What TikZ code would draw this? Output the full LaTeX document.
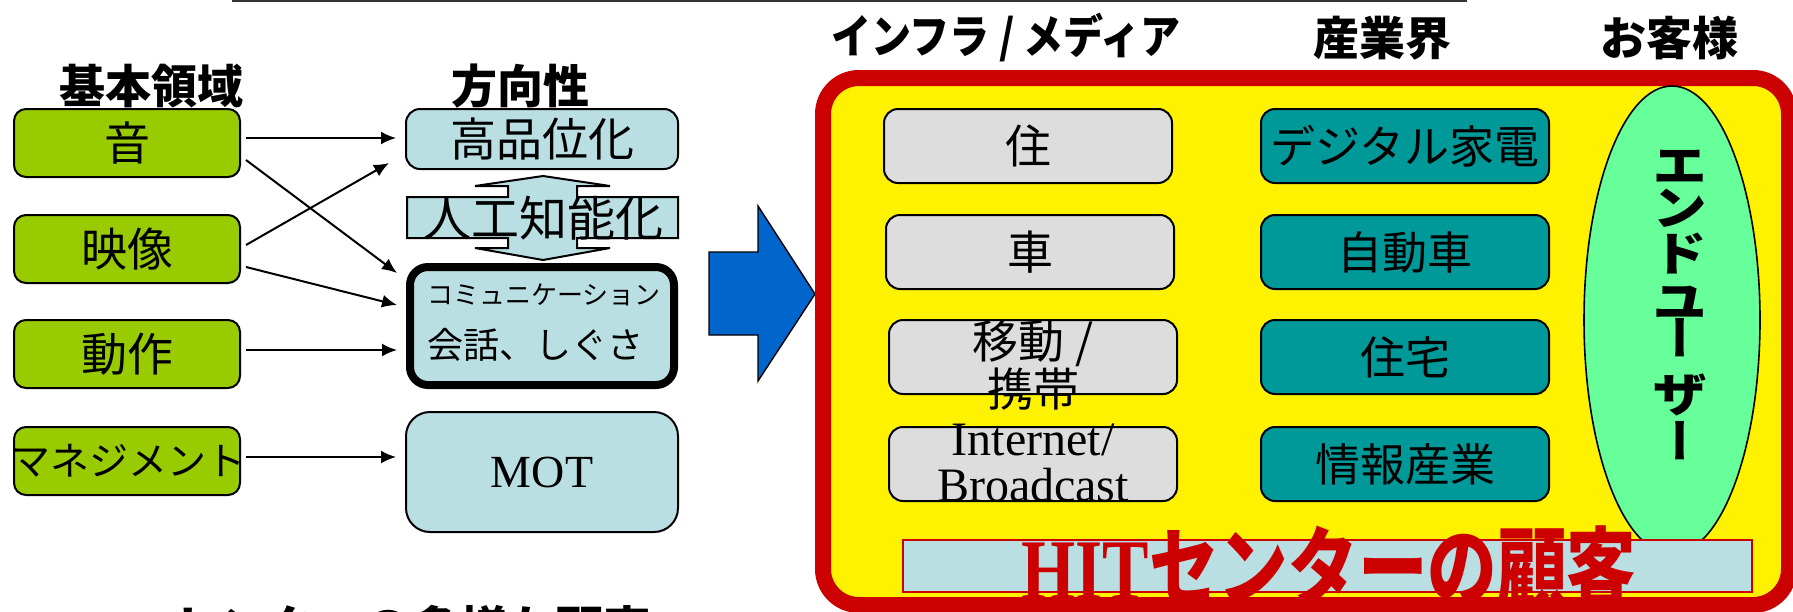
\documentclass[tikz,border=0pt]{standalone}
\usepackage{fontspec}
\setmainfont{Liberation Serif}
\newfontfamily\jp{Noto Sans CJK JP}
\newfontfamily\jpv[RawFeature=+vert]{Noto Sans CJK JP}
\usetikzlibrary{arrows.meta,calc,shapes.geometric}
\definecolor{lgreen}{HTML}{99CC00}
\definecolor{lblue}{HTML}{BADFE3}
\definecolor{lgray}{HTML}{DDDDDD}
\definecolor{tealbox}{HTML}{009999}
\definecolor{mint}{HTML}{66FF99}
\definecolor{hitred}{HTML}{CC0000}
\definecolor{arrowblue}{HTML}{0066CC}
\begin{document}
\begin{tikzpicture}[x=0.5pt,y=-0.5pt,
  hdr/.style={font=\jp\bfseries\fontsize{23}{26}\selectfont, inner sep=0},
  gbox/.style={draw, line width=1pt, fill=lgreen, rounded corners=6pt, minimum width=113pt, minimum height=34pt, inner sep=0, font=\jp\fontsize{23}{25}\selectfont},
  bbox/.style={draw, line width=1pt, fill=lblue, rounded corners=7pt, minimum width=136pt, inner sep=0},
  ibox/.style={draw, line width=1pt, fill=lgray, rounded corners=7pt, minimum width=144pt, minimum height=37pt, inner sep=0},
  tbox/.style={draw, line width=1pt, fill=tealbox, rounded corners=7pt, minimum width=144pt, minimum height=37pt, inner sep=0, font=\jp\fontsize{22.5}{24}\selectfont},
  conn/.style={-{Latex[length=7.5pt,width=6.5pt]}, line width=1pt},
  vch/.style={font=\jpv\bfseries\fontsize{24}{24}\selectfont, inner sep=0},
]
\useasboundingbox (0,0) rectangle (1793,611);

% top rule
\draw[line width=1pt, draw=black!80] (232,1) -- (1467,1);

% headers
\node[hdr] (h1) at (151,86) {基本領域};
\node[hdr] (h2) at (520,86) {方向性};
\node[hdr] (h3) at (1006,38) {\scalebox{0.87}[1]{インフラ / メディア}};
\node[hdr] (h4) at (1382,38) {産業界};
\node[hdr] (h5) at (1669,38) {お客様};

% left column
\node[gbox] (oto) at (127,143) {音};
\node[gbox] (eizo) at (127,249) {映像};
\node[gbox] (dosa) at (127,354) {動作};
\node[gbox] (mgmt) at (127,461) {};
\node[inner sep=0, font=\jp\fontsize{19.5}{22}\selectfont] (mgmtt) at (128,461) {マネジメント};

% direction column
\node[bbox, minimum height=30pt, font=\jp\fontsize{23}{25}\selectfont] (hq) at (542,139) {高品位化};
\draw[line width=1pt, fill=lblue] (407,197) -- (508,197) -- (508,186) -- (475,186) -- (543,176) -- (610,186) -- (577,186) -- (577,197) -- (678,197) -- (678,238) -- (577,238) -- (577,248) -- (610,248) -- (543,260) -- (475,248) -- (508,248) -- (508,238) -- (407,238) -- cycle;
\node[font=\jp\fontsize{24}{26}\selectfont, inner sep=0] (ai) at (543,218) {人工知能化};
\node[bbox, line width=4pt, rounded corners=9pt, minimum width=132pt, minimum height=59pt] (comm) at (542,326) {};
\node[anchor=west, inner sep=0, font=\jp\fontsize{13}{15}\selectfont] (commt) at (427,295) {コミュニケーション};
\node[anchor=west, inner sep=0, font=\jp\fontsize{18}{20}\selectfont] (kaiwa) at (427,345) {会話、しぐさ};
\node[bbox, rounded corners=12pt, minimum height=60pt, font=\fontsize{23}{25}\selectfont] (mot) at (542,472) {MOT};

% connectors
\draw[conn] ($(oto.east)+(5,-5)$) -- ($(hq.west)+(-9,-1)$);
\draw[conn] ($(oto.east)+(5,17)$) -- ($(comm.north west)+(-9,10)$);
\draw[conn] ($(eizo.east)+(5,-4)$) -- ($(hq.south west)+(-16,-7)$);
\draw[conn] ($(eizo.east)+(5,18)$) -- ($(comm.west)+(-9,-21)$);
\draw[conn] ($(dosa.east)+(5,-4)$) -- ($(comm.west)+(-9,24)$);
\draw[conn] ($(mgmt.east)+(5,-4)$) -- ($(mot.west)+(-9,-15)$);

% big blue arrow
\draw[fill=arrowblue, line width=0.7pt] (709,252) -- (758,252) -- (758,206) -- (815,294) -- (758,381) -- (758,335) -- (709,335) -- cycle;

% customer frame
\draw[line width=8pt, draw=hitred, fill=yellow, rounded corners=18pt] (823,78) rectangle (1789,605);

% infra column
\node[ibox, font=\jp\fontsize{23}{25}\selectfont] (ju) at (1028,146) {住};
\node[ibox, font=\jp\fontsize{23}{25}\selectfont] (kuruma) at (1030,252) {車};
\node[ibox] (idou) at (1033,357) {};
\node[inner sep=0, align=center, font=\jp\fontsize{23}{24}\selectfont] (idout) at (1033,365) {移動 /\\携帯};
\node[ibox] (inet) at (1033,464) {};
\node[inner sep=0, align=center, font=\fontsize{24}{23}\selectfont] (inett) at (1033,463) {Internet/\\Broadcast};

% industry column
\node[tbox] (kaden) at (1405,146) {デジタル家電};
\node[tbox] (jidosha) at (1405,252) {自動車};
\node[tbox] (jutaku) at (1405,357) {住宅};
\node[tbox] (joho) at (1405,464) {情報産業};

% end user ellipse
\node[draw, fill=mint, ellipse, line width=0.8pt, minimum width=88pt, minimum height=234pt, inner sep=0] (eu) at (1672,320) {};
\node[vch] (c1) at (1680,167) {\scalebox{1.15}[1]{エ}};
\node[vch] (c2) at (1680,208) {\scalebox{1.15}[1]{ン}};
\node[vch] (c3) at (1680,254) {\scalebox{1.15}[1]{ド}};
\node[vch] (c4) at (1680,303) {\scalebox{1.15}[1]{ユ}};
\node[vch] (c5) at (1680,338) {ー};
\node[vch] (c6) at (1680,395) {\scalebox{1.15}[1]{ザ}};
\node[vch] (c7) at (1680,441) {ー};

% HIT customers banner
\node[draw=hitred, fill=lblue, line width=1pt, minimum width=424.5pt, minimum height=26pt, inner sep=0] (hitbox) at (1327.5,566) {};
\node[inner sep=0, text=hitred, font=\bfseries\fontsize{40}{40}\selectfont] (hitt) at (1329,567) {\scalebox{0.87}[1.08]{HIT{\jp\bfseries センターの顧客}}};

% cut-off caption at the bottom
\node[inner sep=0, font=\jp\bfseries\fontsize{24}{24}\selectfont] (cap) at (411,628) {センターの多様な顧客};
\end{tikzpicture}
\end{document}
